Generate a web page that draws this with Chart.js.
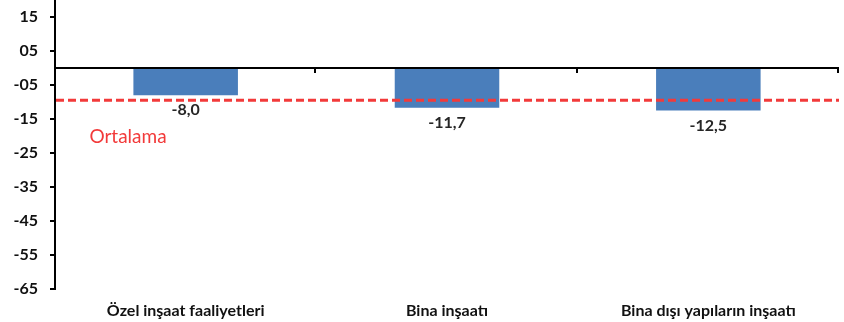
<!DOCTYPE html>
<html>
<head>
<meta charset="utf-8">
<script src="https://cdn.jsdelivr.net/npm/chart.js@4/dist/chart.umd.min.js"></script>
<style>
    body { margin: 0; background: #fff; }
    #wrap { width: 844px; height: 322px; position: relative; }
</style>
</head>
<body>
<div id="wrap"><canvas id="grafico"></canvas></div>
<script>
    // dados
    var categorias = ['Özel inşaat faaliyetleri', 'Bina inşaatı', 'Bina dışı yapıların inşaatı'];
    var valores = [-8.0, -11.7, -12.5];
    var rotulos = ['-8,0', '-11,7', '-12,5'];
    var ortalama = -9.5;
    var ticksY = [-65, -55, -45, -35, -25, -15, -5, 5, 15];
    var ticksYTexto = ['-65', '-55', '-45', '-35', '-25', '-15', '-05', '05', '15'];

    var fonte = 'Lato, "Open Sans", sans-serif';

    // linha do zero, media e rotulos das barras
    var extras = {
        id: 'extras',
        afterDatasetsDraw: function (chart) {
            var ctx = chart.ctx;
            var area = chart.chartArea;
            var y = chart.scales.y;
            ctx.save();

            // linha zero com marcas entre categorias
            var y0 = y.getPixelForValue(0);
            ctx.strokeStyle = '#000';
            ctx.lineWidth = 2;
            ctx.beginPath();
            ctx.moveTo(area.left, y0);
            ctx.lineTo(area.right, y0);
            var passo = (area.right - area.left) / categorias.length;
            for (var i = 1; i <= categorias.length; i++) {
                var xt = Math.round(area.left + passo * i) - 1;
                ctx.moveTo(xt, y0);
                ctx.lineTo(xt, y0 + 5);
            }
            ctx.stroke();

            // media
            var ym = y.getPixelForValue(ortalama);
            ctx.strokeStyle = '#f23a3a';
            ctx.lineWidth = 3;
            ctx.setLineDash([8, 4]);
            ctx.beginPath();
            ctx.moveTo(area.left + 1, ym);
            ctx.lineTo(area.right, ym);
            ctx.stroke();
            ctx.setLineDash([]);

            ctx.fillStyle = '#f23a3a';
            ctx.font = '19px ' + fonte;
            ctx.textAlign = 'center';
            ctx.textBaseline = 'middle';
            ctx.fillText('Ortalama', 128, 137);

            // rotulos
            var meta = chart.getDatasetMeta(0);
            ctx.fillStyle = '#262626';
            ctx.font = 'bold 16px ' + fonte;
            meta.data.forEach(function (barra, i) {
                ctx.fillText(rotulos[i], barra.x, barra.y + 15);
            });
            ctx.restore();
        }
    };

    var config = {
        type: 'bar',
        data: {
            labels: categorias,
            datasets: [{
                data: valores,
                backgroundColor: '#4a7ebb',
                borderWidth: 0,
                categoryPercentage: 1,
                barPercentage: 0.4
            }]
        },
        options: {
            responsive: true,
            maintainAspectRatio: false,
            animation: false,
            layout: { padding: { top: 0, right: 5, bottom: 0, left: 0 } },
            plugins: {
                legend: { display: false },
                tooltip: { enabled: false }
            },
            scales: {
                x: {
                    position: 'bottom',
                    border: { display: false },
                    grid: { display: false, drawTicks: false },
                    ticks: {
                        padding: 12,
                        color: '#111',
                        font: { family: fonte, size: 16, weight: 'bold' }
                    },
                    afterFit: function (s) { s.height = 33; }
                },
                y: {
                    min: -65,
                    max: 20,
                    border: { display: true, color: '#000', width: 2 },
                    grid: { display: true, drawOnChartArea: false, color: '#000', lineWidth: 2, tickLength: 5 },
                    afterBuildTicks: function (s) {
                        s.ticks = ticksY.map(function (v) { return { value: v }; });
                    },
                    ticks: {
                        padding: 12,
                        color: '#111',
                        font: { family: fonte, size: 16, weight: 'bold' },
                        callback: function (v) {
                            return ticksYTexto[ticksY.indexOf(v)];
                        }
                    },
                    afterFit: function (s) {
                        s.width = 55;
                        s.paddingTop = 0;
                        s.paddingBottom = 0;
                    }
                }
            }
        },
        plugins: [extras]
    };

    var myChart = new Chart(document.getElementById('grafico'), config);
</script>
</body>
</html>
